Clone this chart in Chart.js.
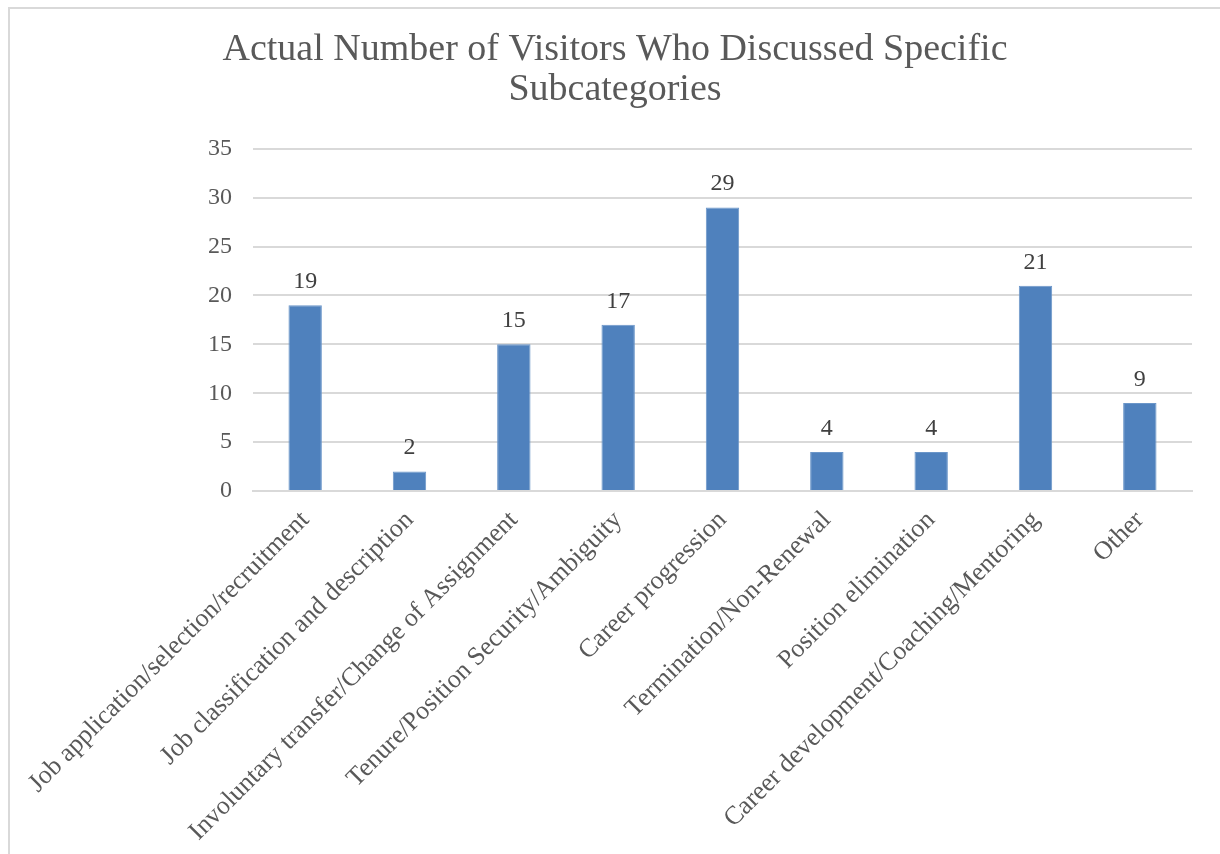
<!DOCTYPE html>
<html>
<head>
<meta charset="utf-8">
<script src="https://cdn.jsdelivr.net/npm/chart.js@4.4.1/dist/chart.umd.min.js"></script>
<style>
  html, body { margin: 0; padding: 0; background: #fff; overflow: hidden; }
  #wrap { position: relative; width: 1220px; height: 854px; }
  #marco {
    position: absolute; left: 8px; top: 7px; width: 1240px; height: 880px;
    border: 2px solid #d9d9d9; box-sizing: border-box; pointer-events: none;
  }
  canvas { position: absolute; left: 0; top: 0; }
</style>
</head>
<body>
<div id="wrap">
  <canvas id="graficoVisitantes" width="1220" height="854"></canvas>
  <div id="marco"></div>
</div>
<script>
// Datos del gráfico
const categorias = [
    'Job application/selection/recruitment',
    'Job classification and description',
    'Involuntary transfer/Change of Assignment',
    'Tenure/Position Security/Ambiguity',
    'Career progression',
    'Termination/Non-Renewal',
    'Position elimination',
    'Career development/Coaching/Mentoring',
    'Other'
];
const visitantes = [19, 2, 15, 17, 29, 4, 4, 21, 9];
const ticksY = [0, 5, 10, 15, 20, 25, 30, 35];

const fuente = "'Liberation Serif', 'DejaVu Serif', serif";

// Escribe el valor encima de cada barra
const etiquetasValor = {
    id: 'etiquetasValor',
    afterDatasetsDraw(chart) {
        const ctx = chart.ctx;
        const meta = chart.getDatasetMeta(0);
        ctx.save();
        ctx.font = '24px ' + fuente;
        ctx.fillStyle = '#404040';
        ctx.textAlign = 'center';
        ctx.textBaseline = 'alphabetic';
        meta.data.forEach((barra, i) => {
            ctx.fillText(String(visitantes[i]), barra.x, barra.y - 17);
        });
        ctx.restore();
    }
};

const ctxBarras = document.getElementById('graficoVisitantes');
const chart = new Chart(ctxBarras, {
    type: 'bar',
    data: {
        labels: categorias,
        datasets: [{
            label: 'Visitors',
            data: visitantes,
            backgroundColor: '#4f81bd',
            borderColor: '#6b96c9',
            borderWidth: 1,
            categoryPercentage: 1,
            barPercentage: 0.32
        }]
    },
    options: {
        responsive: false,
        animation: false,
        devicePixelRatio: 1,
        // padding izquierdo mayor para que el título quede centrado en 615px
        layout: { padding: { left: 38, right: 28, top: 0, bottom: 0 } },
        plugins: {
            legend: { display: false },
            tooltip: { enabled: false },
            title: {
                display: true,
                text: ['Actual Number of Visitors Who Discussed Specific', 'Subcategories'],
                color: '#595959',
                font: { family: fuente, size: 38, weight: 'normal', lineHeight: 1.05 },
                padding: { top: 30, bottom: 39 }
            }
        },
        scales: {
            x: {
                grid: { display: false, drawTicks: false },
                border: { display: true, color: '#d9d9d9', width: 2 },
                ticks: {
                    color: '#595959',
                    font: { family: fuente, size: 26 },
                    minRotation: 45,
                    maxRotation: 45,
                    autoSkip: false,
                    padding: 14
                },
                afterFit(escala) { escala.height = 363; }
            },
            y: {
                min: 0,
                max: 35,
                afterBuildTicks(escala) {
                    escala.ticks = ticksY.map(v => ({ value: v }));
                },
                grid: { color: '#d9d9d9', lineWidth: 2, drawTicks: false },
                border: { display: false },
                ticks: {
                    color: '#595959',
                    font: { family: fuente, size: 24 },
                    padding: 21
                },
                afterFit(escala) { escala.width = 215; }
            }
        }
    },
    plugins: [etiquetasValor]
});
</script>
</body>
</html>
